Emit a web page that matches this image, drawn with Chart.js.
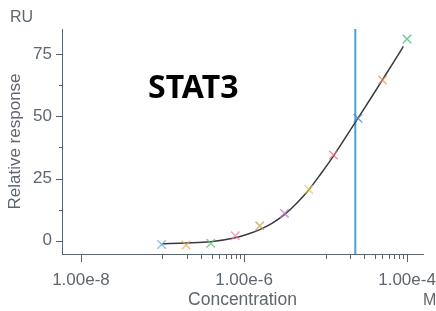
<!DOCTYPE html>
<html><head><meta charset="utf-8">
<script src="https://cdn.jsdelivr.net/npm/chart.js@4.4.1/dist/chart.umd.min.js"></script>
<style>html,body{margin:0;padding:0;background:#fff}#wrap{width:436px;height:311px}</style>
</head><body><div id="wrap"><canvas id="c" width="436" height="311"></canvas></div>
<script>
// Measured points (concentration in M, response in RU)
const concentrations = [9.77e-8, 1.95e-7, 3.91e-7, 7.81e-7, 1.56e-6, 3.13e-6, 6.25e-6, 1.25e-5, 2.5e-5, 5e-5, 1e-4];
const responses = [-1.5, -1.7, -1.0, 2.0, 6.0, 11.0, 20.6, 34.4, 49.2, 64.5, 81.0];
const pointColors = ['#6aaee0','#f5a55a','#5cc07a','#ee82b0','#c8a050','#c080d0','#e8cc50','#f07070','#4a7fd0','#f09060','#40b878'];
// Fitted curve
const curveConc = [9.77e-8, 1.95e-7, 3.91e-7, 7.81e-7, 1.1e-6, 1.56e-6, 2.2e-6, 3.13e-6, 4.4e-6, 6.25e-6, 8.8e-6, 1.25e-5, 1.77e-5, 2.5e-5, 3.5e-5, 5e-5, 7e-5, 9e-5];
const curveResp = [-1.2, -0.9, -0.4, 1.2, 2.6, 4.5, 7.0, 10.5, 15.0, 20.5, 27.0, 34.0, 41.6, 49.2, 56.6, 64.6, 72.2, 78.0];
const ec50 = 2.32e-5;
const yMin = -5.3, yMax = 85;
const xMin = 5.85e-9, xMax = 1.57e-4;
const xMajorTicks = [1e-8, 1e-6, 1e-4];
const xMinorTicks = [1e-7,2e-7,3e-7,4e-7,5e-7,6e-7,7e-7,8e-7,9e-7,1e-5,2e-5,3e-5,4e-5,5e-5,6e-5,7e-5,8e-5,9e-5];
const yMajorTicks = [0, 25, 50, 75];
const yMinorTicks = [12.5, 37.5, 62.5];
const xTickLabels = ['1.00e-8', '1.00e-6', '1.00e-4'];

const axisColor = '#5b636d';
const textColor = '#5f666e';
const FONT = "'Liberation Sans', Arial, sans-serif";

const tickPlugin = {
  id: 'ticksAndText',
  afterDraw(chart) {
    const ctx = chart.ctx;
    const xs = chart.scales.x, ys = chart.scales.y;
    const ca = chart.chartArea;
    ctx.save();
    ctx.strokeStyle = axisColor;
    ctx.lineWidth = 1;
    ctx.beginPath();
    xMajorTicks.forEach(v => { const p = Math.round(xs.getPixelForValue(v)) + 0.5; ctx.moveTo(p, ca.bottom); ctx.lineTo(p, ca.bottom + 8); });
    xMinorTicks.forEach(v => { const p = Math.round(xs.getPixelForValue(v)) + 0.5; ctx.moveTo(p, ca.bottom); ctx.lineTo(p, ca.bottom + 5); });
    yMajorTicks.forEach(v => { const p = Math.round(ys.getPixelForValue(v)) + 0.5; ctx.moveTo(ca.left, p); ctx.lineTo(ca.left - 6, p); });
    yMinorTicks.forEach(v => { const p = Math.round(ys.getPixelForValue(v)) + 0.5; ctx.moveTo(ca.left, p); ctx.lineTo(ca.left - 3, p); });
    ctx.stroke();
    ctx.fillStyle = textColor;
    ctx.font = '16px ' + FONT;
    ctx.textBaseline = 'middle';
    ctx.textAlign = 'left';
    ctx.fillText('RU', 10, 18);
    ctx.fillText('M', 423, 301);
    ctx.fillStyle = '#000';
    ctx.font = "bold 32px 'Noto Sans', 'Open Sans', sans-serif";
    ctx.fillText('STAT3', 148, 89);
    ctx.restore();
  }
};

const ds = [
  {
    type: 'line', label: 'EC50',
    data: [{x: ec50, y: yMin}, {x: ec50, y: yMax}],
    borderColor: '#45a2e0', borderWidth: 2, pointRadius: 0, order: 3
  },
  {
    type: 'line', label: 'fit',
    data: curveConc.map((c, i) => ({x: c, y: curveResp[i]})),
    borderColor: '#3a3a3a', borderWidth: 1.5, pointRadius: 0, cubicInterpolationMode: 'monotone', order: 2
  },
  {
    type: 'scatter', label: 'points',
    data: concentrations.map((c, i) => ({x: c, y: responses[i]})),
    pointStyle: 'crossRot', pointRadius: 6, pointBorderWidth: 1.5,
    borderColor: pointColors.map(c => c + 'bb'), backgroundColor: pointColors, order: 1
  }
];

new Chart(document.getElementById('c'), {
  data: { datasets: ds },
  options: {
    responsive: false, animation: false,
    layout: { padding: { top: 29, right: 13, left: 0, bottom: 0 } },
    plugins: { legend: { display: false }, tooltip: { enabled: false } },
    scales: {
      x: {
        type: 'logarithmic', min: xMin, max: xMax,
        afterBuildTicks(s) { s.ticks = xMajorTicks.map(v => ({value: v})); },
        afterFit(s) { s.height = 57; s.paddingLeft = 0; s.paddingRight = 0; },
        ticks: { color: textColor, font: { family: FONT, size: 17 }, padding: 8, maxRotation: 0,
          callback(v) { const i = xMajorTicks.indexOf(v); return i >= 0 ? xTickLabels[i] : ''; } },
        grid: { display: true, drawOnChartArea: false, drawTicks: true, tickLength: 8, color: 'transparent' },
        border: { display: true, color: axisColor, width: 1 },
        title: { display: true, text: 'Concentration', color: textColor, font: { family: FONT, size: 17.5 }, padding: { top: 0, bottom: 0 } }
      },
      y: {
        type: 'linear', min: yMin, max: yMax,
        afterBuildTicks(s) { s.ticks = yMajorTicks.map(v => ({value: v})); },
        afterFit(s) { s.width = 62; s.paddingTop = 0; s.paddingBottom = 0; },
        ticks: { color: textColor, font: { family: FONT, size: 17 }, padding: 4 },
        grid: { display: true, drawOnChartArea: false, drawTicks: true, tickLength: 6, color: 'transparent' },
        border: { display: true, color: axisColor, width: 1 },
        title: { display: true, text: 'Relative response', color: textColor, font: { family: FONT, size: 17 }, padding: { top: 5, bottom: 0 } }
      }
    }
  },
  plugins: [tickPlugin]
});
</script></body></html>
